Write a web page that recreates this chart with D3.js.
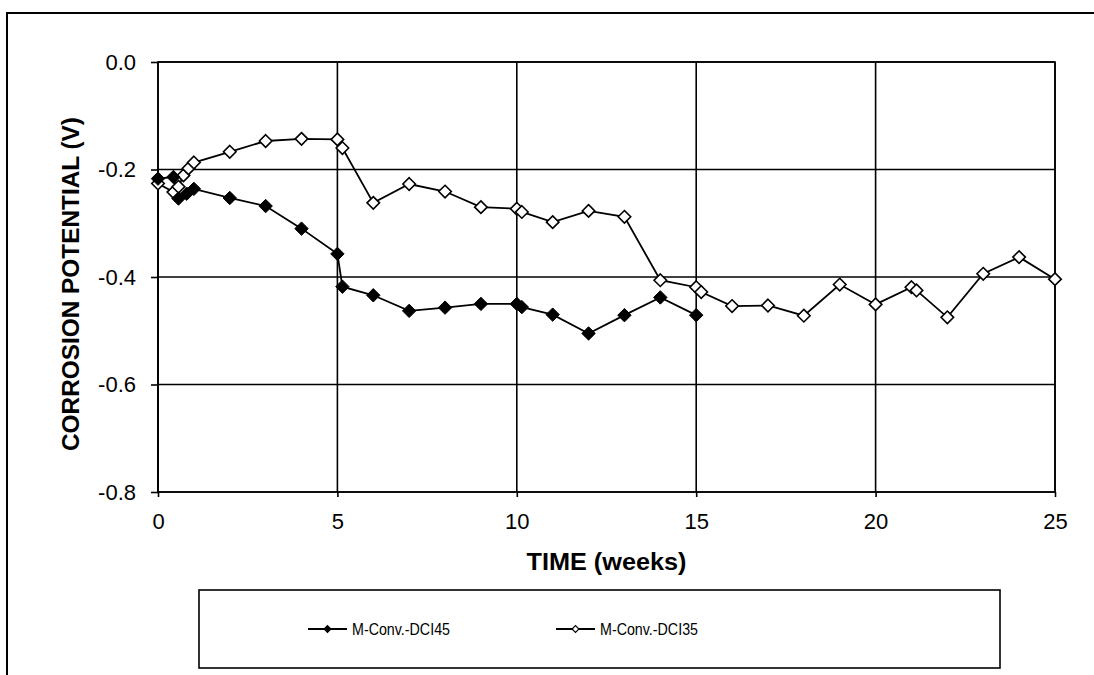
<!DOCTYPE html>
<html>
<head>
<meta charset="utf-8">
<script src="https://cdn.jsdelivr.net/npm/d3@7"></script>
<style>
  body { margin: 0; background: #fff; }
  svg { display: block; font-family: "Liberation Sans", Arial, sans-serif; }
</style>
</head>
<body>
<svg id="chart" width="1094" height="675"></svg>
<script>
// weeks / potential (V)
const dci45Weeks = [0, 0, 0.43, 0.57, 0.8, 1, 2, 3, 4, 5, 5.14, 6, 7, 8, 9, 10, 10.14, 11, 12, 13, 14, 15];
const dci45Volts = [-0.85, -0.217, -0.214, -0.254, -0.245, -0.236, -0.253, -0.268, -0.31, -0.357, -0.418, -0.434, -0.463, -0.457, -0.45, -0.45, -0.456, -0.47, -0.505, -0.471, -0.438, -0.471];

const dci35Weeks = [0, 0.43, 0.57, 0.71, 0.85, 1, 2, 3, 4, 5, 5.14, 6, 7, 8, 9, 10, 10.14, 11, 12, 13, 14, 15, 15.14, 16, 17, 18, 19, 20, 21, 21.14, 22, 23, 24, 25];
const dci35Volts = [-0.226, -0.242, -0.232, -0.211, -0.198, -0.187, -0.167, -0.147, -0.143, -0.144, -0.16, -0.262, -0.227, -0.241, -0.27, -0.273, -0.279, -0.298, -0.277, -0.288, -0.406, -0.419, -0.428, -0.454, -0.453, -0.472, -0.414, -0.451, -0.419, -0.425, -0.475, -0.394, -0.363, -0.404];

const xTicks = [0, 5, 10, 15, 20, 25];
const yTicks = [0, -0.2, -0.4, -0.6, -0.8];

const seriesNames = ["M-Conv.-DCI45", "M-Conv.-DCI35"];

const svg = d3.select("#chart");

const plotL = 158, plotR = 1055, plotT = 62, plotB = 492;

const x = d3.scaleLinear().domain([0, 25]).range([plotL, plotR]);
const y = d3.scaleLinear().domain([-0.8, 0]).range([plotB, plotT]);

// outer chart border (runs off the right and bottom edges)
svg.append("path")
    .attr("d", "M7,680 L7,13 L1100,13")
    .attr("fill", "none")
    .attr("stroke", "#000")
    .attr("stroke-width", 2);

svg.append("defs").append("clipPath").attr("id", "plotclip")
    .append("rect")
    .attr("x", plotL - 10).attr("y", plotT - 10)
    .attr("width", plotR - plotL + 20).attr("height", plotB - plotT + 10);

// gridlines
const grid = svg.append("g").attr("stroke", "#000").attr("stroke-width", 1.6);
grid.selectAll("line.h")
    .data(yTicks)
    .join("line")
    .attr("class", "h")
    .attr("x1", plotL).attr("x2", plotR)
    .attr("y1", d => y(d)).attr("y2", d => y(d));
grid.selectAll("line.v")
    .data(xTicks)
    .join("line")
    .attr("class", "v")
    .attr("x1", d => x(d)).attr("x2", d => x(d))
    .attr("y1", plotT).attr("y2", plotB);

svg.append("rect")
    .attr("x", plotL).attr("y", plotT)
    .attr("width", plotR - plotL).attr("height", plotB - plotT)
    .attr("fill", "none")
    .attr("stroke", "#000")
    .attr("stroke-width", 1.6);

// axes (plain hyphen for the minus, as in the original)
const yAxis = svg.append("g")
    .attr("transform", `translate(${plotL},0)`)
    .call(d3.axisLeft(y).tickValues(yTicks).tickSize(7).tickPadding(15).tickFormat(d => d.toFixed(1)));
const xAxis = svg.append("g")
    .attr("transform", `translate(0,${plotB})`)
    .call(d3.axisBottom(x).tickValues(xTicks).tickSize(5).tickPadding(16).tickFormat(d => String(d)));

[yAxis, xAxis].forEach(a => {
    a.select(".domain").remove();
    a.selectAll(".tick line").attr("stroke", "#000").attr("stroke-width", 1.6);
    a.selectAll(".tick text")
        .attr("fill", "#000")
        .attr("font-family", "Liberation Sans, Arial, sans-serif")
        .attr("font-size", 22);
});

// axis titles
svg.append("text")
    .attr("x", (plotL + plotR) / 2)
    .attr("y", 570)
    .attr("text-anchor", "middle")
    .attr("font-weight", "bold")
    .attr("font-size", 23)
    .attr("textLength", 160)
    .attr("lengthAdjust", "spacingAndGlyphs")
    .text("TIME (weeks)");

svg.append("text")
    .attr("transform", "translate(79,284) rotate(-90)")
    .attr("text-anchor", "middle")
    .attr("font-weight", "bold")
    .attr("font-size", 23)
    .attr("textLength", 334)
    .attr("lengthAdjust", "spacingAndGlyphs")
    .text("CORROSION POTENTIAL (V)");

// series
const line = d3.line()
    .x(d => x(d[0]))
    .y(d => y(d[1]));

const diamond = d3.symbol().type(d3.symbolDiamond2);

const s45 = d3.zip(dci45Weeks, dci45Volts);
const s35 = d3.zip(dci35Weeks, dci35Volts);

const plot = svg.append("g").attr("clip-path", "url(#plotclip)");

plot.append("path")
    .datum(s45)
    .attr("d", line)
    .attr("fill", "none")
    .attr("stroke", "#000")
    .attr("stroke-width", 1.8);

plot.append("path")
    .datum(s35)
    .attr("d", line)
    .attr("fill", "none")
    .attr("stroke", "#000")
    .attr("stroke-width", 1.8);

plot.append("g")
    .selectAll("path")
    .data(s35)
    .join("path")
    .attr("transform", d => `translate(${x(d[0])},${y(d[1])})`)
    .attr("d", diamond.size(100))
    .attr("fill", "#fff")
    .attr("stroke", "#000")
    .attr("stroke-width", 1.6);

plot.append("g")
    .selectAll("path")
    .data(s45)
    .join("path")
    .attr("transform", d => `translate(${x(d[0])},${y(d[1])})`)
    .attr("d", diamond.size(115))
    .attr("fill", "#000")
    .attr("stroke", "#000")
    .attr("stroke-width", 1);

// legend
const legend = svg.append("g");
legend.append("rect")
    .attr("x", 199).attr("y", 590)
    .attr("width", 801).attr("height", 78)
    .attr("fill", "#fff")
    .attr("stroke", "#000")
    .attr("stroke-width", 1.6);

const legendX = [308, 556];
const legendFill = ["#000", "#fff"];
const item = legend.selectAll("g.item")
    .data(seriesNames)
    .join("g")
    .attr("class", "item")
    .attr("transform", (d, i) => `translate(${legendX[i]},629)`);

item.append("line")
    .attr("x1", 0).attr("x2", 39)
    .attr("stroke", "#000").attr("stroke-width", 1.8);
item.append("path")
    .attr("transform", "translate(19.5,0)")
    .attr("d", diamond.size(30))
    .attr("fill", (d, i) => legendFill[i])
    .attr("stroke", "#000")
    .attr("stroke-width", 1.2);
item.append("text")
    .attr("x", 44)
    .attr("dy", "0.35em")
    .attr("font-size", 17)
    .attr("textLength", 98)
    .attr("lengthAdjust", "spacingAndGlyphs")
    .text(d => d);
</script>
</body>
</html>
